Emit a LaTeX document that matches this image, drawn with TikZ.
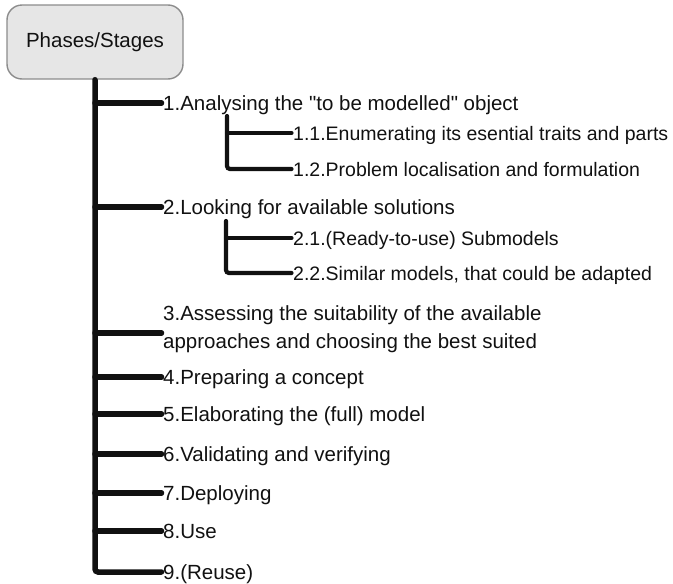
\documentclass[tikz,border=0pt]{standalone}
\usepackage{fontspec}
\setmainfont{Liberation Sans}[Ligatures=TeXOff]
\definecolor{boxfill}{HTML}{E6E6E6}
\definecolor{boxline}{HTML}{8C8C8C}
\definecolor{ink}{HTML}{111111}
\begin{document}
\begin{tikzpicture}[x=1pt,y=-1pt,
  rootbox/.style={draw=boxline,line width=1.4pt,fill=boxfill,rounded corners=15pt,
    minimum width=176pt,minimum height=74pt,font=\fontsize{20.5}{24}\selectfont,text=ink},
  mainitem/.style={anchor=west,inner sep=0pt,text=ink,font=\fontsize{20.5}{28}\selectfont,
    text height=14.7pt,text depth=0pt},
  subitem/.style={anchor=west,inner sep=0pt,text=ink,font=\fontsize{19.5}{24}\selectfont,
    text height=14pt,text depth=0pt},
  mainline/.style={draw=ink,line width=5.5pt,line cap=round,rounded corners=3pt},
  subline/.style={draw=ink,line width=4.2pt,line cap=round,rounded corners=3pt}]
\useasboundingbox (0,0) rectangle (673,584);

% root box
\node[rootbox] (root) at (95,42) {Phases/Stages};

% first level
\node[mainitem] (i1) at (163,103) {1.Analysing the "to be modelled" object};
\node[mainitem] (i2) at (163,207) {2.Looking for available solutions};
\node[anchor=west,inner sep=0pt,text=ink,font=\fontsize{20.5}{28}\selectfont,align=left]
  (i3) at (163,329) {3.Assessing the suitability of the available\\approaches and choosing the best suited};
\node[mainitem] (i4) at (163,377) {4.Preparing a concept};
\node[mainitem] (i5) at (163,414) {5.Elaborating the (full) model};
\node[mainitem] (i6) at (163,454) {6.Validating and verifying};
\node[mainitem] (i7) at (163,493) {7.Deploying};
\node[mainitem] (i8) at (163,531) {8.Use};
\node[mainitem] (i9) at (163,572) {9.(Reuse)};

% second level
\node[subitem] (s11) at (293,133) {1.1.Enumerating its esential traits and parts};
\node[subitem] (s12) at (293,169) {1.2.Problem localisation and formulation};
\node[subitem] (s21) at (293,238) {2.1.(Ready-to-use) Submodels};
\node[subitem] (s22) at (293,273) {2.2.Similar models, that could be adapted};

% trunk and first-level branches
\coordinate (b3) at ([yshift=-4pt]i3.west);
\draw[mainline] (root.south) |- ([xshift=-1.5pt]i9.west);
\foreach \n in {i1,i2,i4,i5,i6,i7,i8}
  \draw[mainline] (root.south |- \n.west) -- ([xshift=-1.5pt]\n.west);
\draw[mainline] (root.south |- b3) -- ([xshift=-1.5pt]b3);

% second-level trunks and branches
\coordinate (t1) at (227,116);
\coordinate (t2) at (226,221);
\draw[subline] (t1) |- ([xshift=-1.5pt]s12.west);
\draw[subline] (t1 |- s11.west) -- ([xshift=-1.5pt]s11.west);
\draw[subline] (t2) |- ([xshift=-1.5pt]s22.west);
\draw[subline] (t2 |- s21.west) -- ([xshift=-1.5pt]s21.west);
\end{tikzpicture}
\end{document}
